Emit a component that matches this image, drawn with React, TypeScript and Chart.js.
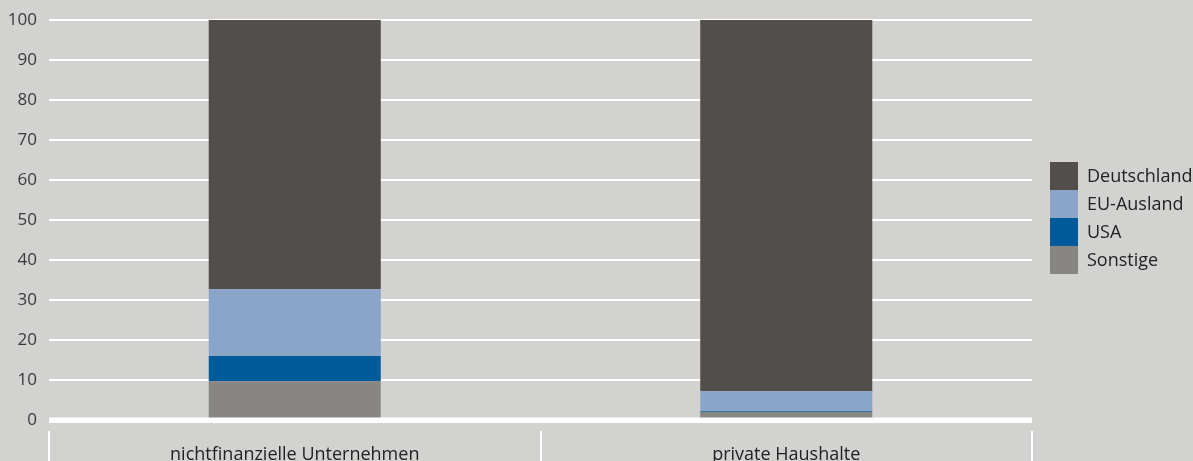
import React, { useEffect, useRef } from "react";
import { Chart, registerables } from "chart.js";

Chart.register(...registerables);

const categories = ["nichtfinanzielle Unternehmen", "private Haushalte"];
const seriesNames = ["Sonstige", "USA", "EU-Ausland", "Deutschland"];
const sonstige = [9.7, 2.0];
const usa = [6.3, 0.2];
const euAusland = [16.7, 5.0];
const deutschland = [67.3, 92.8];
const seriesColors = ["#878683", "#005b9a", "#8ba5c8", "#524e4b"];
const yTicksMax = 100;

const FONT = "'Open Sans', 'Noto Sans', sans-serif";

const overlayPlugin = {
  id: "overlay",
  afterDatasetsDraw(chart: any) {
    const ctx = chart.ctx;
    const y = chart.scales.y;
    const x = chart.scales.x;
    const ca = chart.chartArea;
    ctx.save();
    // zero line
    const y0 = y.getPixelForValue(0);
    ctx.fillStyle = "#ffffff";
    ctx.fillRect(ca.left, y0 - 2.5, ca.right - ca.left, 5.5);
    // category separators
    const n = categories.length;
    const w = (x.right - x.left) / n;
    for (let i = 0; i <= n; i++) {
      const px = Math.round(x.left + i * w);
      ctx.fillRect(px - 1, y0 + 11, 2, chart.height - (y0 + 11));
    }
    // legend
    const ds = chart.data.datasets;
    const boxX = 1050;
    const boxW = 28;
    const boxH = 28;
    let top = 162;
    ctx.font = `18px ${FONT}`;
    ctx.textBaseline = "middle";
    ctx.textAlign = "left";
    for (let i = ds.length - 1; i >= 0; i--) {
      ctx.fillStyle = ds[i].backgroundColor;
      ctx.fillRect(boxX, top, boxW, boxH);
      ctx.fillStyle = "#222222";
      ctx.fillText(ds[i].label, boxX + boxW + 9, top + boxH / 2 + 1);
      top += boxH;
    }
    ctx.restore();
  },
};

export default function App() {
  const ref = useRef<HTMLCanvasElement | null>(null);
  useEffect(() => {
    document.body.style.margin = "0";
    const values = [sonstige, usa, euAusland, deutschland];
    const chart = new Chart(ref.current as HTMLCanvasElement, {
      type: "bar",
      data: {
        labels: categories,
        datasets: seriesNames.map((name, i) => ({
          label: name,
          data: values[i],
          backgroundColor: seriesColors[i],
          borderWidth: 0,
          barPercentage: 0.35,
          categoryPercentage: 1,
        })),
      },
      options: {
        animation: false,
        responsive: true,
        maintainAspectRatio: false,
        layout: { padding: { top: 20, right: 161, left: 0, bottom: 0 } },
        plugins: {
          legend: { display: false },
          tooltip: { enabled: false },
        },
        scales: {
          x: {
            stacked: true,
            offset: true,
            grid: { display: false, drawTicks: false },
            border: { display: false },
            ticks: {
              color: "#222222",
              font: { family: FONT, size: 18 },
              padding: 24,
              maxRotation: 0,
            },
            afterFit(scale: any) {
              scale.height = 41;
            },
          },
          y: {
            stacked: true,
            min: 0,
            max: yTicksMax,
            ticks: {
              stepSize: 10,
              color: "#3a3a3a",
              font: { family: FONT, size: 17, lineHeight: 1 },
              padding: 12,
            },
            grid: {
              color: "#ffffff",
              lineWidth: 2,
              drawTicks: false,
            },
            border: { display: false },
            afterFit(scale: any) {
              scale.width = 49;
              scale.paddingTop = 0;
              scale.paddingBottom = 0;
            },
          },
        },
      },
      plugins: [overlayPlugin],
    });
    return () => chart.destroy();
  }, []);
  return (
    <div style={{ width: 1193, height: 461, background: "#d2d2d1", position: "relative" }}>
      <canvas ref={ref} />
    </div>
  );
}
